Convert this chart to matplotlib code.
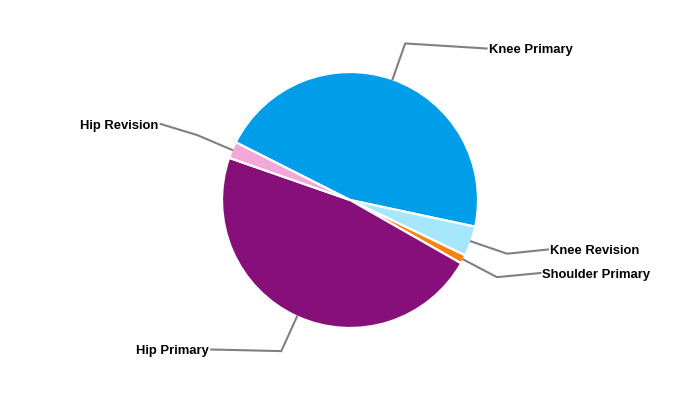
import numpy as np
import matplotlib
matplotlib.use("Agg")
import matplotlib.pyplot as plt

categories = ["Knee Primary", "Knee Revision", "Shoulder Primary", "Hip Primary", "Hip Revision"]
values = [45.9, 3.8, 1.1, 47.1, 2.1]
colors = ["#009DE9", "#A7E7FD", "#F7820C", "#860F7A", "#F3A8DA"]

# layout (pixel space, y measured from top)
W, H = 700, 400
CX, CY, R = 350, 200, 128
BEND_R = 166
LABEL_R = 204
label_y_top = [48.5, 249.5, 273, 349.5, 124]

fig = plt.figure(figsize=(7, 4), dpi=100)
ax = fig.add_axes([0, 0, 1, 1])
ax.set_xlim(0, W)
ax.set_ylim(0, H)
ax.axis("off")

wedges, _ = ax.pie(values, colors=colors, startangle=153.2, counterclock=False,
                   center=(CX, H - CY), radius=R,
                   wedgeprops=dict(edgecolor="white", linewidth=1.6))
ax.set_xlim(0, W)
ax.set_ylim(0, H)
ax.set_aspect("equal")

for w, name, ly in zip(wedges, categories, label_y_top):
    mid = np.deg2rad((w.theta1 + w.theta2) / 2)
    c, s = np.cos(mid), np.sin(mid)
    x0, y0 = CX + R * c, H - CY + R * s
    x1, y1 = CX + BEND_R * c, H - CY + BEND_R * s
    yl = H - ly
    dy = yl - (H - CY)
    dx = np.sqrt(max(LABEL_R ** 2 - dy ** 2, 0))
    right = c >= 0
    x2 = CX + dx if right else CX - dx
    ax.plot([x0, x1, x2], [y0, y1, yl], color="#808080", lw=1.5,
            solid_joinstyle="miter", zorder=1)
    ax.text(x2 + (2 if right else -2), yl - 0.3, name, ha="left" if right else "right",
            va="center_baseline", fontsize=9.4, fontweight="bold", color="black",
            family=["Liberation Sans", "DejaVu Sans"])

fig.savefig("out.png", dpi=100, facecolor="white")
